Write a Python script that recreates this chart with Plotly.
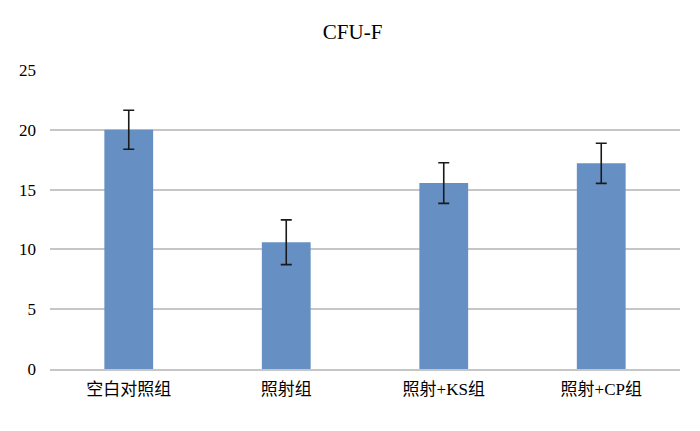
import plotly.graph_objects as go

categories = ["空白对照组", "照射组", "照射+KS组", "照射+CP组"]
values = [20.0, 10.6, 15.55, 17.2]
errors = [1.63, 1.87, 1.7, 1.68]
y_ticks = [0, 5, 10, 15, 20, 25]

font_family = "Liberation Serif, Noto Sans CJK SC, serif"

fig = go.Figure(
    go.Bar(
        x=categories,
        y=values,
        width=0.31,
        marker=dict(color="#6690C4", line=dict(width=0)),
        error_y=dict(type="data", array=errors, visible=True,
                     color="#1a1a1a", thickness=1.6, width=5.5),
    )
)

# page body has an 8px default margin, so the figure is sized to fit the window
fig.update_layout(
    width=692, height=423,
    margin=dict(l=42, r=20, t=62, b=62),
    paper_bgcolor="white", plot_bgcolor="white",
    title=dict(text="CFU-F", x=0.498, xanchor="center", y=0.943, yanchor="middle",
               font=dict(family=font_family, size=21, color="#000")),
    font=dict(family=font_family, size=17, color="#000"),
    showlegend=False,
)
fig.update_xaxes(showline=True, linecolor="#C6C6C6", linewidth=1.5,
                 showgrid=False, ticks="", ticklabelstandoff=4,
                 tickfont=dict(size=17))
fig.update_yaxes(range=[0, 25], tickvals=y_ticks, showgrid=True,
                 gridcolor="#C6C6C6", gridwidth=1.5, zeroline=False,
                 ticks="", ticklabelstandoff=13, tickfont=dict(size=17))

fig.write_html("out.html")
